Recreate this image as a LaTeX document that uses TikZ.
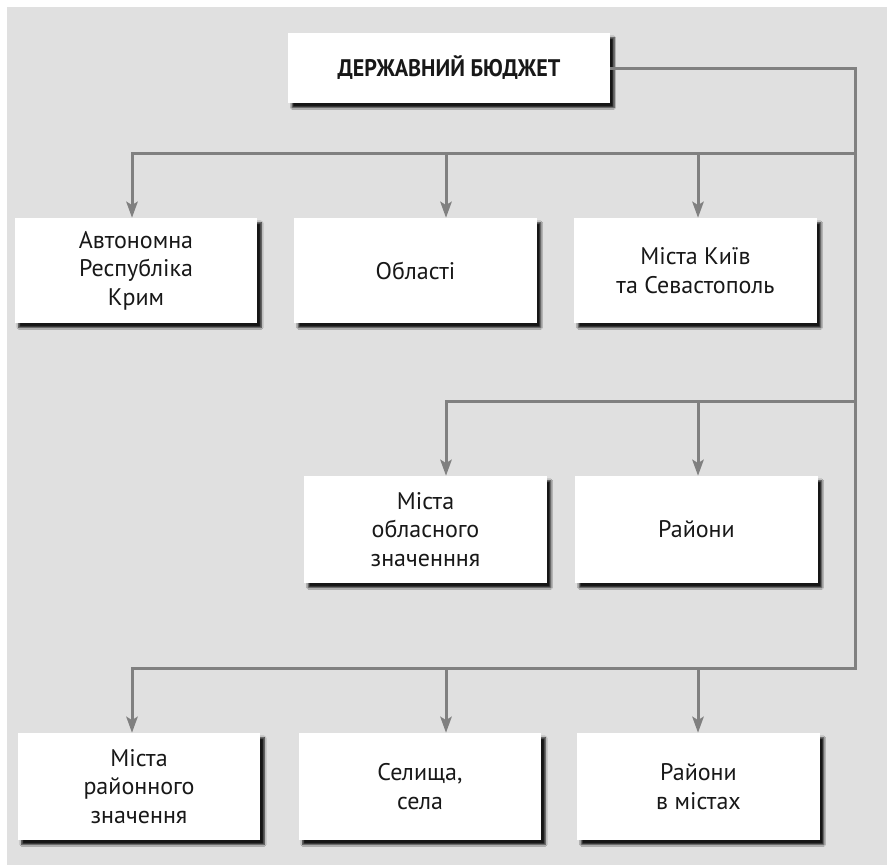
\documentclass[tikz,border=0pt]{standalone}
\usepackage{fontspec}
\setmainfont{PT Sans}
\newfontfamily\titlefont[FakeStretch=0.92]{PT Sans}
\usetikzlibrary{arrows.meta,shadows.blur}
\definecolor{panel}{RGB}{224,224,224}
\definecolor{wire}{RGB}{128,128,128}
\definecolor{ink}{RGB}{24,24,24}
\begin{document}
\begin{tikzpicture}[x=0.75pt,y=-0.75pt,
  box/.style={fill=white, inner sep=0pt, align=center, text=ink,
    font=\fontsize{18}{21.4}\selectfont,
    blur shadow={shadow xshift=3pt, shadow yshift=-3.5pt,
      shadow blur radius=1.3pt, shadow blur steps=6, shadow opacity=90}},
  rowbox/.style={box, minimum width=182pt},
  wire/.style={draw=wire, line width=2.25pt},
  arrow/.style={wire, -{Stealth[length=12pt,width=8.5pt,inset=2.5pt]}}]
\useasboundingbox (0,0) rectangle (887,865);
\fill[panel] (7,7) rectangle (887,865);

% boxes
\node[box, minimum width=241.5pt, minimum height=52.5pt,
      font=\titlefont\fontsize{18}{20}\selectfont\bfseries] (top) at (449,68) {ДЕРЖАВНИЙ БЮДЖЕТ};

\node[rowbox, minimum height=78.75pt] (r1a) at (136,270.5) {Автономна\\Республіка\\Крим};
\node[rowbox, minimum height=78.75pt] (r1b) at (415.5,270.5) {Області};
\node[rowbox, minimum height=78.75pt] (r1c) at (695.5,270.5) {Міста Київ\\та Севастополь};

\node[rowbox, minimum height=80.25pt] (r2a) at (425.5,529.5) {Міста\\обласного\\значенння};
\node[rowbox, minimum height=80.25pt] (r2b) at (696.5,529.5) {Райони};

\node[rowbox, minimum height=80.25pt] (r3a) at (139,786.5) {Міста\\районного\\значення};
\node[rowbox, minimum height=80.25pt] (r3b) at (420,786.5) {Селища,\\села};
\node[rowbox, minimum height=80.25pt] (r3c) at (698.5,786.5) {Райони\\в містах};

% trunk and distribution lines
\coordinate (t1) at (855,68);
\coordinate (t3) at (855,668);
\coordinate (j1) at (855,153);
\coordinate (j2) at (855,401);

\coordinate (a1) at (132,153);
\coordinate (a2) at (446,153);
\coordinate (a3) at (698,153);

\coordinate (b1) at (446,401);
\coordinate (b2) at (698,401);

\coordinate (c1) at (132,668);
\coordinate (c2) at (446,668);
\coordinate (c3) at (698,668);

\draw[arrow] (top.east) -- (t1) -- (t3) -- (c1) -- (c1 |- r3a.north);
\draw[arrow] (c2) -- (c2 |- r3b.north);
\draw[arrow] (c3) -- (c3 |- r3c.north);

\draw[arrow] (j1) -- (a1) -- (a1 |- r1a.north);
\draw[arrow] (a2) -- (a2 |- r1b.north);
\draw[arrow] (a3) -- (a3 |- r1c.north);

\draw[arrow] (j2) -- (b1) -- (b1 |- r2a.north);
\draw[arrow] (b2) -- (b2 |- r2b.north);
\end{tikzpicture}
\end{document}
